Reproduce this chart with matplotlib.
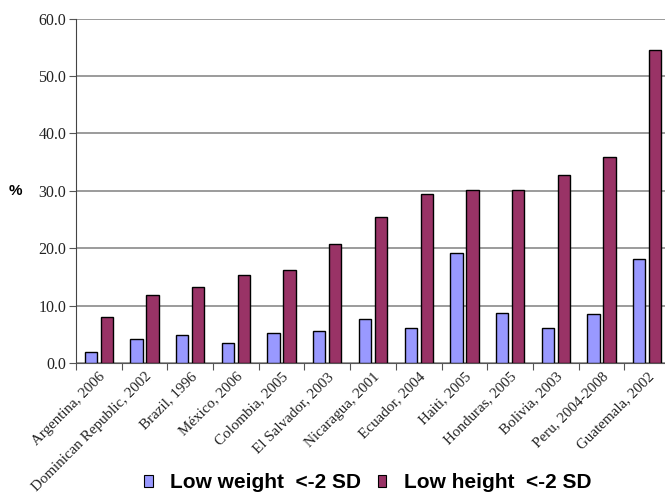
import matplotlib
matplotlib.use("Agg")
import matplotlib.pyplot as plt
import numpy as np
from matplotlib.patches import Patch

categories = ["Argentina, 2006", "Dominican Republic, 2002", "Brazil, 1996", "México, 2006",
              "Colombia, 2005", "El Salvador, 2003", "Nicaragua, 2001", "Ecuador, 2004",
              "Haiti, 2005", "Honduras, 2005", "Bolivia, 2003", "Peru, 2004-2008", "Guatemala, 2002"]
low_weight = [2.0, 4.2, 4.8, 3.4, 5.2, 5.5, 7.7, 6.1, 19.2, 8.8, 6.1, 8.5, 18.2]
low_height = [8.0, 11.8, 13.2, 15.4, 16.2, 20.8, 25.4, 29.4, 30.2, 30.2, 32.7, 35.9, 54.5]
series_names = ["Low weight  <-2 SD", "Low height  <-2 SD"]
yticks = [0, 10, 20, 30, 40, 50, 60]

c_weight = "#9999FF"
c_height = "#993366"

fig = plt.figure(figsize=(6.65, 4.96), dpi=100)
ax = fig.add_axes([76/665, (496-363)/496, (670-76)/665, (363-18.7)/496])

x = np.arange(len(categories))
w = 0.27
ax.bar(x - 0.175, low_weight, w, color=c_weight, edgecolor="black", linewidth=1.0, zorder=3)
ax.bar(x + 0.175, low_height, w, color=c_height, edgecolor="black", linewidth=1.0, zorder=3)

ax.set_xlim(-0.5, len(categories) - 0.5)
ax.set_ylim(0, 60)
ax.set_yticks(yticks)
ax.set_yticklabels([f"{v:.1f}" for v in yticks], fontfamily="Liberation Serif", fontsize=11.5, color="#222222")
ax.yaxis.grid(True, color="#8a8a8a", linewidth=1.2, zorder=0)
ax.set_axisbelow(True)

ax.set_xticks(np.arange(len(categories) + 1) - 0.5)
ax.set_xticklabels([])
ax.set_xticks(x, minor=True)
ax.set_xticklabels(categories, minor=True, rotation=45, ha="right", va="top",
                   rotation_mode="anchor", fontfamily="Liberation Serif", fontsize=10.8, color="#222222")
ax.tick_params(axis="x", which="minor", length=0, pad=5)
ax.tick_params(axis="x", which="major", length=5, color="#555555", direction="out")
ax.tick_params(axis="y", length=5, color="#555555", direction="out", pad=2)

for s in ["top", "right"]:
    ax.spines[s].set_visible(False)
ax.spines["left"].set_color("#444444")
ax.spines["bottom"].set_color("#555555")

fig.text(15.7/665, 1 - 191/496, "%", fontfamily="Liberation Sans", fontweight="bold",
         fontsize=11, ha="center", va="center")

handles = [Patch(facecolor=c_weight, edgecolor="black", linewidth=0.8),
           Patch(facecolor=c_height, edgecolor="black", linewidth=0.8)]
fig.legend(handles, series_names, loc="center", bbox_to_anchor=(368/665, 1 - 483/496),
           ncol=2, frameon=False, handlelength=0.4, handleheight=0.5, handletextpad=0.85,
           columnspacing=0.8, borderpad=0, borderaxespad=0,
           prop={"family": "Liberation Sans", "weight": "bold", "size": 15})

fig.savefig("out.png", dpi=100)
